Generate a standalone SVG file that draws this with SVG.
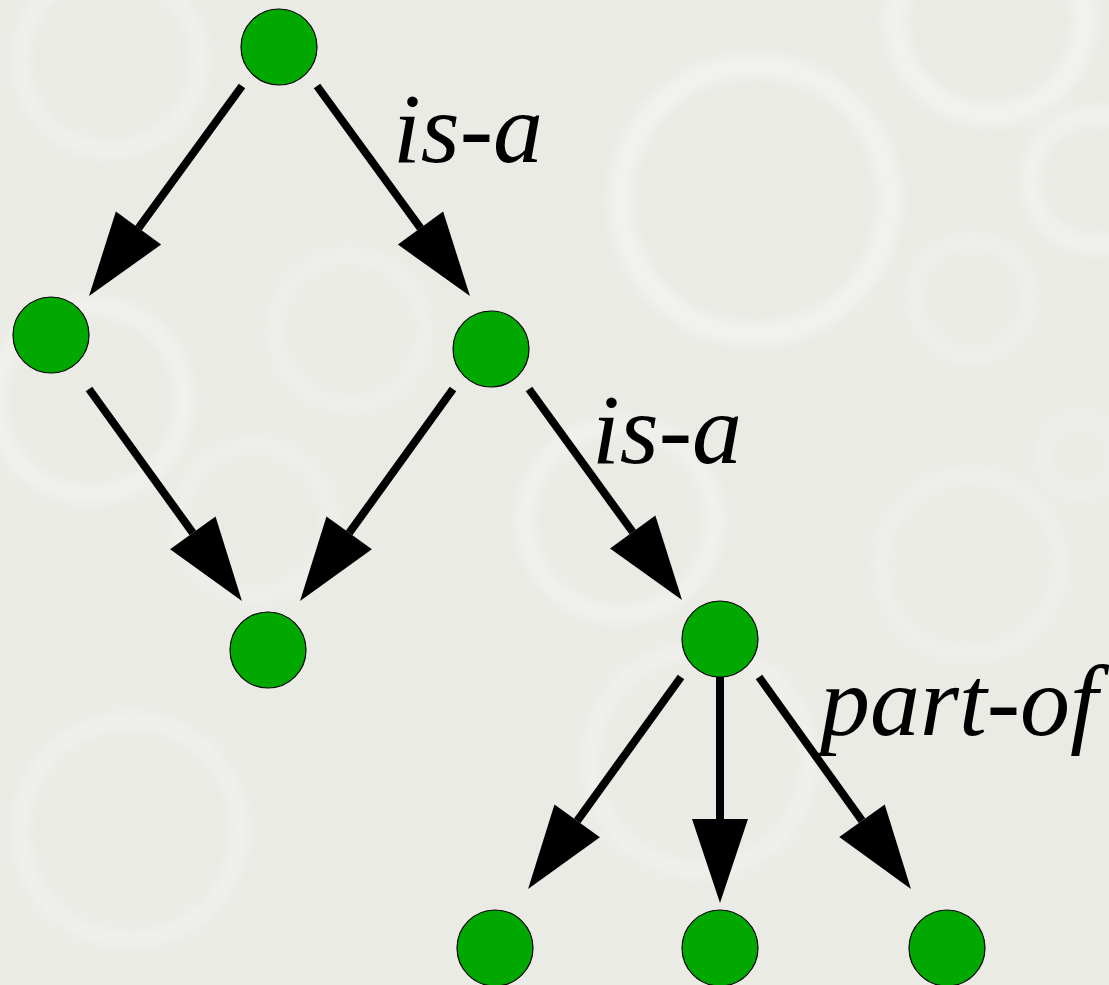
<svg xmlns="http://www.w3.org/2000/svg" width="1109" height="985" viewBox="0 0 1109 985">
  <defs>
    <filter id="soft" x="-20%" y="-20%" width="140%" height="140%">
      <feGaussianBlur stdDeviation="8"/>
    </filter>
    <marker id="head" markerUnits="userSpaceOnUse" markerWidth="90" markerHeight="60" refX="0" refY="0" orient="auto" overflow="visible">
      <path d="M0,-28 L84,0 L0,28 Z" fill="#000"/>
    </marker>
    <style>
      .bubble { fill: none; stroke: #ffffff; stroke-opacity: 0.5; }
      .edge { stroke: #000; stroke-width: 8; fill: none; marker-end: url(#head); }
      .node { fill: #00a800; stroke: #000; stroke-width: 1.2; }
      .lbl { fill: #000; }
    </style>
  </defs>

  <!-- backdrop: pale grey with soft bubble rings -->
  <rect x="0" y="0" width="1109" height="985" fill="#ebebe6"/>
  <g id="backdrop" filter="url(#soft)">
    <circle class="bubble" cx="755" cy="200" r="135" stroke-width="14"/>
    <circle class="bubble" cx="972" cy="298" r="58" stroke-width="6"/>
    <circle class="bubble" cx="1095" cy="180" r="65" stroke-width="10"/>
    <circle class="bubble" cx="990" cy="20" r="95" stroke-width="14"/>
    <circle class="bubble" cx="350" cy="330" r="75" stroke-width="6"/>
    <circle class="bubble" cx="90" cy="400" r="95" stroke-width="10"/>
    <circle class="bubble" cx="255" cy="520" r="75" stroke-width="6"/>
    <circle class="bubble" cx="620" cy="520" r="95" stroke-width="10"/>
    <circle class="bubble" cx="970" cy="565" r="90" stroke-width="6"/>
    <circle class="bubble" cx="1080" cy="455" r="38" stroke-width="5"/>
    <circle class="bubble" cx="700" cy="760" r="110" stroke-width="8"/>
    <circle class="bubble" cx="130" cy="830" r="110" stroke-width="8"/>
    <circle class="bubble" cx="110" cy="60" r="90" stroke-width="8"/>
  </g>

  <!-- connectors -->
  <g id="edges">
    <line class="edge" x1="242" y1="86" x2="138.5" y2="228.1"/>
    <line class="edge" x1="317" y1="86" x2="420.5" y2="228.1"/>
    <line class="edge" x1="89" y1="389" x2="192.8" y2="532.9"/>
    <line class="edge" x1="453" y1="389" x2="349.2" y2="532.9"/>
    <line class="edge" x1="529" y1="389" x2="632.7" y2="532"/>
    <line class="edge" x1="681" y1="677" x2="577.2" y2="820.9"/>
    <line class="edge" x1="720" y1="677" x2="720" y2="819"/>
    <line class="edge" x1="759" y1="677" x2="862" y2="820.7"/>
  </g>

  <!-- edge labels -->
  <g id="labels" font-family="'Liberation Serif', 'Times New Roman', 'DejaVu Serif', serif" font-style="italic" font-size="100">
    <text class="lbl" x="393" y="162">is-a</text>
    <text class="lbl" x="592" y="463">is-a</text>
    <text class="lbl" x="820" y="735">part-of</text>
  </g>

  <!-- nodes -->
  <g id="n-root"><circle class="node" cx="279" cy="47" r="38"/></g>
  <g id="n-left"><circle class="node" cx="51" cy="335" r="38"/></g>
  <g id="n-right"><circle class="node" cx="491" cy="349" r="38"/></g>
  <g id="n-join"><circle class="node" cx="268" cy="650" r="38"/></g>
  <g id="n-whole"><circle class="node" cx="720" cy="639" r="38"/></g>
  <g id="n-part1"><circle class="node" cx="495" cy="948" r="38"/></g>
  <g id="n-part2"><circle class="node" cx="720" cy="948" r="38"/></g>
  <g id="n-part3"><circle class="node" cx="947" cy="948" r="38"/></g>
</svg>
